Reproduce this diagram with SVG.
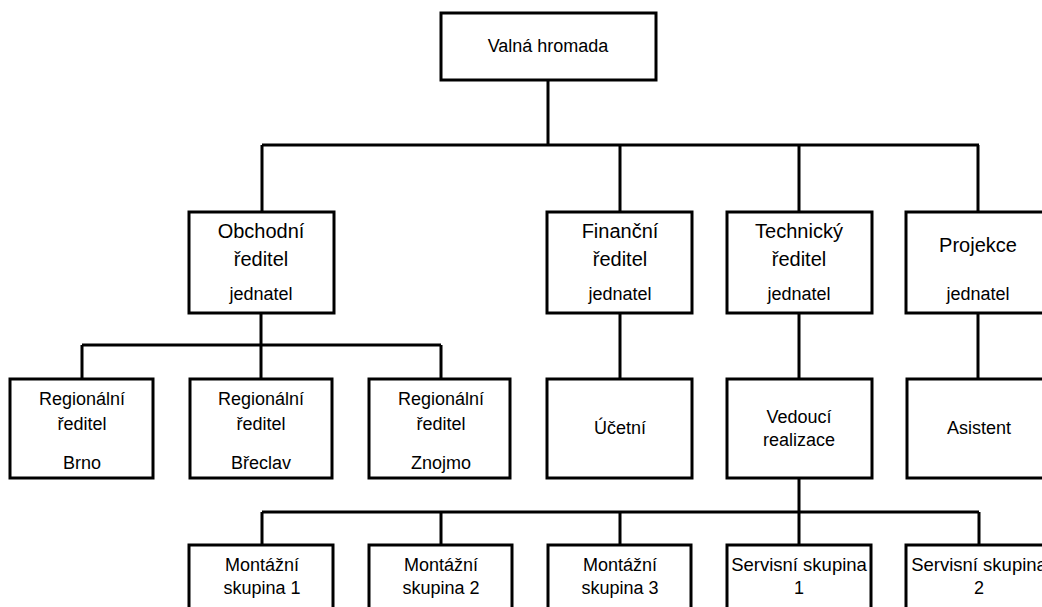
<svg xmlns="http://www.w3.org/2000/svg" width="1042" height="607" viewBox="0 0 1042 607">
<style>
.box{fill:#fff;stroke:#000;stroke-width:3}
.ln{stroke:#000;stroke-width:3;fill:none}
text{font-family:"Liberation Sans",Arial,sans-serif;font-size:18px;fill:#000;text-anchor:middle}
.t{font-size:20px}
</style>
<rect width="1042" height="607" fill="#fff"/>
<g id="connectors">
<path class="ln" d="M548 80V145M262 145H979M262 145V212M620 145V212M799 145V212M978 145V212"/>
<path class="ln" d="M261 313V345M82 345H441M82 345V379M261 345V379M441 345V379"/>
<path class="ln" d="M620 313V379M799 313V379M978 313V379"/>
<path class="ln" d="M799 478V512M262 512H979M262 512V545M441 512V545M620 512V545M799 512V545M979 512V545"/>
</g>
<g id="valna"><rect class="box" x="441" y="13" width="215" height="67"/><text x="548" y="52">Valná hromada</text></g>
<g id="obchodni"><rect class="box" x="189" y="212" width="145" height="101"/><text class="t" x="261" y="238">Obchodní</text><text class="t" x="261" y="266">ředitel</text><text x="261" y="300">jednatel</text></g>
<g id="financni"><rect class="box" x="547" y="212" width="145" height="101"/><text class="t" x="620" y="238">Finanční</text><text class="t" x="620" y="266">ředitel</text><text x="620" y="300">jednatel</text></g>
<g id="technicky"><rect class="box" x="727" y="212" width="145" height="101"/><text class="t" x="799" y="238">Technický</text><text class="t" x="799" y="266">ředitel</text><text x="799" y="300">jednatel</text></g>
<g id="projekce"><rect class="box" x="906" y="212" width="145" height="101"/><text class="t" x="978" y="252">Projekce</text><text x="978" y="300">jednatel</text></g>
<g id="brno"><rect class="box" x="10" y="379" width="143" height="99"/><text x="82" y="405">Regionální</text><text x="82" y="430">ředitel</text><text x="82" y="469">Brno</text></g>
<g id="breclav"><rect class="box" x="190" y="379" width="142" height="99"/><text x="261" y="405">Regionální</text><text x="261" y="430">ředitel</text><text x="261" y="469">Břeclav</text></g>
<g id="znojmo"><rect class="box" x="369" y="379" width="141" height="99"/><text x="441" y="405">Regionální</text><text x="441" y="430">ředitel</text><text x="441" y="469">Znojmo</text></g>
<g id="ucetni"><rect class="box" x="547" y="379" width="145" height="99"/><text x="620" y="434">Účetní</text></g>
<g id="vedouci"><rect class="box" x="727" y="379" width="145" height="99"/><text x="799" y="423">Vedoucí</text><text x="799" y="446">realizace</text></g>
<g id="asistent"><rect class="box" x="907" y="379" width="145" height="99"/><text x="979" y="434">Asistent</text></g>
<g id="montazni1"><rect class="box" x="189" y="545" width="144" height="80"/><text x="262" y="571">Montážní</text><text x="262" y="594">skupina 1</text></g>
<g id="montazni2"><rect class="box" x="369" y="545" width="143" height="80"/><text x="441" y="571">Montážní</text><text x="441" y="594">skupina 2</text></g>
<g id="montazni3"><rect class="box" x="548" y="545" width="143" height="80"/><text x="620" y="571">Montážní</text><text x="620" y="594">skupina 3</text></g>
<g id="servisni1"><rect class="box" x="727" y="545" width="144" height="80"/><text x="799" y="571" style="font-size:18.5px">Servisní skupina</text><text x="799" y="594">1</text></g>
<g id="servisni2"><rect class="box" x="906" y="545" width="145" height="80"/><text x="979" y="571" style="font-size:18.5px">Servisní skupina</text><text x="979" y="594">2</text></g>
</svg>
